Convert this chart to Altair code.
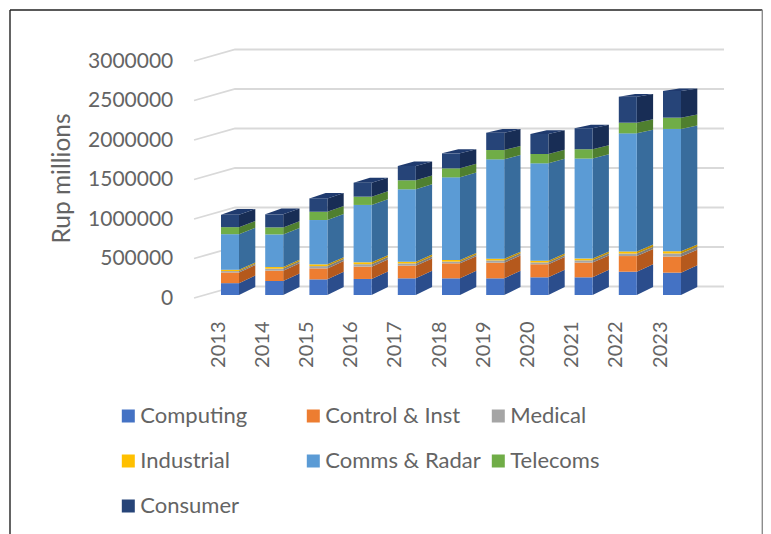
import altair as alt
import pandas as pd

years = [2013, 2014, 2015, 2016, 2017, 2018, 2019, 2020, 2021, 2022, 2023]
series_names = ["Computing", "Control & Inst", "Medical", "Industrial", "Comms & Radar", "Telecoms", "Consumer"]
computing = [150000, 177000, 198000, 203000, 211000, 211000, 211000, 224000, 224000, 295000, 283000]
control = [135000, 131000, 139000, 156000, 160000, 190000, 198000, 165000, 186000, 198000, 203000]
medical = [18000, 26000, 29000, 31000, 29000, 22000, 29000, 24000, 29000, 32000, 40000]
industrial = [16000, 20000, 22000, 24000, 22000, 20000, 22000, 22000, 22000, 27000, 28000]
comms = [451000, 413000, 561000, 726000, 916000, 1046000, 1257000, 1232000, 1266000, 1494000, 1548000]
telecoms = [89000, 89000, 105000, 105000, 114000, 114000, 118000, 118000, 118000, 135000, 143000]
consumer = [156000, 165000, 169000, 177000, 181000, 190000, 219000, 253000, 266000, 329000, 338000]
all_series = [computing, control, medical, industrial, comms, telecoms, consumer]
front_colors = ["#4472c4", "#ed7d31", "#a5a5a5", "#ffc000", "#5b9bd5", "#70ad47", "#264478"]
side_colors = ["#2b4d8c", "#b5591d", "#7d7d7d", "#bf9000", "#386c9c", "#4f7f2f", "#182d55"]
y_ticks = [0, 500000, 1000000, 1500000, 2000000, 2500000, 3000000]

# projection of the 3-D look, in scale units
PX_YEAR = 44.2
PX_VAL = 39.5 / 500000
BAR_W = 18 / PX_YEAR
BAR_D = 16.3 / PX_YEAR
FRONT_BASE = 3 / PX_VAL
BACK_BASE = 11 / PX_VAL
BACK_K = 0.973
WALL_L = 2012.39
WALL_B = 2013.317
WALL_R = 2024.38
WALL_DY = 11.5 / PX_VAL

front_rows, side_rows, top_rows = [], [], []
for i, yr in enumerate(years):
    cum = 0
    for name, vals, sc in zip(series_names, all_series, side_colors):
        lo, hi = cum, cum + vals[i]
        cum = hi
        front_rows.append(dict(series=name, x=yr, x2=yr + BAR_W, y=lo + FRONT_BASE, y2=hi + FRONT_BASE))
        key = f"{yr}-{name}"
        side_rows.append(dict(key=key, side=sc, x=yr + BAR_W, y=lo + FRONT_BASE, y2=hi + FRONT_BASE))
        side_rows.append(dict(key=key, side=sc, x=yr + BAR_W + BAR_D,
                              y=lo * BACK_K + BACK_BASE, y2=hi * BACK_K + BACK_BASE))
    top_rows.append(dict(key=yr, x=yr, x2=yr + BAR_W, y=cum + FRONT_BASE))
    top_rows.append(dict(key=yr, x=yr + BAR_D, x2=yr + BAR_W + BAR_D, y=cum * BACK_K + BACK_BASE))

wall_rows = []
for v in y_ticks:
    wall_rows += [dict(v=v, x=WALL_L, y=v), dict(v=v, x=WALL_B, y=v + WALL_DY), dict(v=v, x=WALL_R, y=v + WALL_DY)]

FONT = "Lato"
GREY = "#646464"
x_scale = alt.Scale(domain=[2012, 2025], range=[0, 574.6], nice=False, zero=False)
y_scale = alt.Scale(domain=[0, 3000000], range=[237, 0], nice=False, zero=False)
x_axis = alt.Axis(
    values=years, format="d", title=None, grid=False, domain=False, ticks=False,
    labelAngle=270, labelAlign="right", labelBaseline="middle", labelOffset=-3,
    labelPadding=4, offset=19, labelFont=FONT, labelFontSize=20, labelColor=GREY)
y_axis = alt.Axis(
    values=y_ticks, format="d", title="Rup millions", grid=False, domain=False, ticks=False,
    labelPadding=4, labelFont=FONT, labelFontSize=21, labelColor=GREY,
    titleFont=FONT, titleFontSize=24.5, titleFontWeight="normal", titleColor=GREY,
    titleX=-114, titleY=117, titleAlign="center", titleBaseline="middle", titleAngle=270)

walls = alt.Chart(pd.DataFrame(wall_rows)).mark_line(color="#d9d9d9", strokeWidth=1.8).encode(
    x=alt.X("x:Q", scale=x_scale, axis=x_axis),
    y=alt.Y("y:Q", scale=y_scale, axis=y_axis),
    detail="v:N",
)
sides = alt.Chart(pd.DataFrame(side_rows)).mark_area(orient="vertical").encode(
    x=alt.X("x:Q", scale=x_scale, axis=x_axis),
    y=alt.Y("y:Q", scale=y_scale, axis=y_axis),
    y2="y2:Q",
    fill=alt.Fill("side:N", scale=None),
    detail="key:N",
)
tops = alt.Chart(pd.DataFrame(top_rows)).mark_area(orient="horizontal", color="#1f3a6e").encode(
    y=alt.Y("y:Q", scale=y_scale, axis=y_axis),
    x=alt.X("x:Q", scale=x_scale, axis=x_axis),
    x2="x2:Q",
    detail="key:N",
)
fronts = alt.Chart(pd.DataFrame(front_rows)).mark_rect().encode(
    x=alt.X("x:Q", scale=x_scale, axis=x_axis),
    x2="x2:Q",
    y=alt.Y("y:Q", scale=y_scale, axis=y_axis),
    y2="y2:Q",
    color=alt.Color("series:N", scale=alt.Scale(domain=series_names, range=front_colors), legend=alt.Legend(
        title=None, orient="none", legendX=-59.5, legendY=344, columns=3, gridAlign="all", direction="horizontal",
        columnPadding=6, rowPadding=23, symbolType="square", symbolSize=169, symbolStrokeWidth=0,
        labelFont=FONT, labelFontSize=22, labelColor=GREY, labelLimit=300, labelOffset=1, padding=0)),
)

def frame(x, x2, y, y2, color):
    return alt.Chart(pd.DataFrame({"a": [0]})).mark_rule(color=color, strokeWidth=1.4).encode(
        x=alt.value(x), x2=alt.value(x2), y=alt.value(y), y2=alt.value(y2))

frames = [
    frame(-166.8, -166.8, -51, 473, "#222222"),
    frame(-166.8, 585.5, -51, -51, "#222222"),
    frame(585.5, 585.5, -51, 473, "#8c8c8c"),
]

chart = alt.layer(walls, sides, tops, fronts, *frames).properties(
    width=574.6, height=237,
    autosize=alt.AutoSizeParams(type="none"),
    padding={"left": 168.8, "top": 53, "right": 11.6, "bottom": 236},
    background="#ffffff",
).configure_view(stroke=None)

chart.save("out.html", embed_options={"renderer": "svg", "actions": False})
